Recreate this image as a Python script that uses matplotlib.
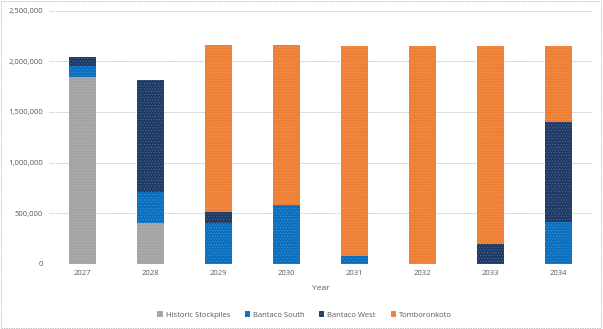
import numpy as np
import matplotlib
matplotlib.use("Agg")
from matplotlib import pyplot as plt
from matplotlib.colors import to_rgb
from matplotlib.patches import Rectangle
from matplotlib.ticker import FuncFormatter

# Ore source tonnes per year (stacked)
years = ["2027", "2028", "2029", "2030", "2031", "2032", "2033", "2034"]
historic = [1845000, 405000, 0, 0, 0, 0, 0, 0]
bantaco_south = [113000, 310000, 404000, 585000, 82000, 0, 0, 410000]
bantaco_west = [80000, 1100000, 105000, 0, 0, 0, 200000, 996000]
tomboronkoto = [0, 0, 1653000, 1577000, 2074000, 2156000, 1953000, 747000]

series = [
    ("Historic Stockpiles", historic, "#A3A3A3"),
    ("Bantaco South", bantaco_south, "#0A6FBF"),
    ("Bantaco West", bantaco_west, "#1E3A66"),
    ("Tomboronkoto", tomboronkoto, "#EE7E33"),
]


def tint(c, f):
    r = np.array(to_rgb(c))
    return tuple(r + (1 - r) * f)


plt.rcParams["font.family"] = ["Open Sans", "DejaVu Sans"]
plt.rcParams["hatch.linewidth"] = 0.3

fig = plt.figure(figsize=(6.03, 3.29), dpi=100)
ax = fig.add_axes([0.081, 0.1976, 0.901, 0.77])

x = np.arange(len(years))
bottom = np.zeros(len(years))
for name, vals, col in series:
    vals = np.array(vals, dtype=float)
    ax.bar(x, vals, 0.4, bottom=bottom, color=col, label=name,
           edgecolor=tint(col, 0.3), hatch="......", linewidth=0)
    bottom += vals

ax.set_xlim(-0.5, len(years) - 0.5)
ax.set_ylim(0, 2500000)
ax.set_yticks(np.arange(0, 2500001, 500000))
ax.yaxis.set_major_formatter(FuncFormatter(lambda v, p: f"{int(v):,}"))
ax.set_xticks(x)
ax.set_xticklabels(years)
ax.grid(axis="y", color="#BFBFBF", linestyle=(0, (1.5, 1)), linewidth=0.6)
ax.set_axisbelow(True)
for s in ax.spines.values():
    s.set_visible(False)
ax.tick_params(length=0, labelsize=5.5, labelcolor="#595959", pad=4)
ax.set_xlabel("Year", fontsize=6, color="#595959", labelpad=6)

leg = fig.legend(loc="lower center", bbox_to_anchor=(0.505, 0.01), ncol=4,
                 frameon=False, fontsize=5.5, handlelength=0.7, handleheight=0.7,
                 columnspacing=1.9, handletextpad=0.4)
for t in leg.get_texts():
    t.set_color("#595959")

# dotted chart-area border
fig.patches.append(Rectangle((0.002, 0.003), 0.995, 0.994, transform=fig.transFigure,
                             fill=False, edgecolor="#BFBFBF", linestyle=(0, (1.5, 1)),
                             linewidth=0.7))

fig.savefig("out.png", dpi=100)
